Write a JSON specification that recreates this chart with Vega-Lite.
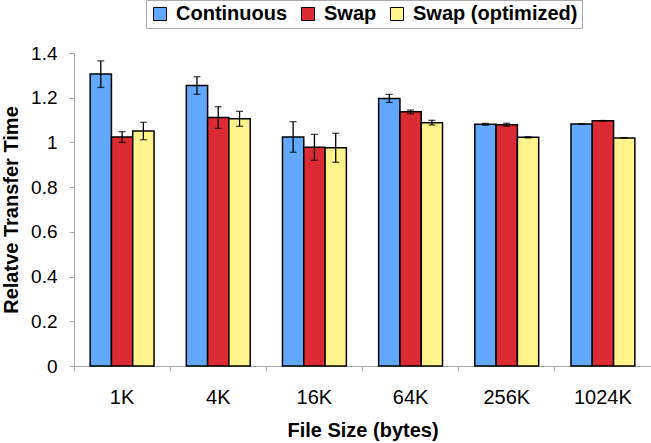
{
  "$schema": "https://vega.github.io/schema/vega-lite/v6.json",
  "width": 577,
  "height": 313,
  "autosize": {"type": "none"},
  "padding": {"left": 74, "top": 53, "right": 0, "bottom": 77},
  "background": "white",
  "config": {
    "font": "Liberation Sans",
    "view": {"stroke": null}
  },
  "data": {
    "values": [
      {"size": "1K", "series": "Continuous", "value": 1.306, "lo": 1.246, "hi": 1.365},
      {"size": "1K", "series": "Swap", "value": 1.024, "lo": 1.0, "hi": 1.048},
      {"size": "1K", "series": "Swap (optimized)", "value": 1.051, "lo": 1.012, "hi": 1.09},
      {"size": "4K", "series": "Continuous", "value": 1.255, "lo": 1.215, "hi": 1.294},
      {"size": "4K", "series": "Swap", "value": 1.112, "lo": 1.063, "hi": 1.16},
      {"size": "4K", "series": "Swap (optimized)", "value": 1.106, "lo": 1.072, "hi": 1.139},
      {"size": "16K", "series": "Continuous", "value": 1.024, "lo": 0.956, "hi": 1.093},
      {"size": "16K", "series": "Swap", "value": 0.978, "lo": 0.92, "hi": 1.036},
      {"size": "16K", "series": "Swap (optimized)", "value": 0.976, "lo": 0.911, "hi": 1.041},
      {"size": "64K", "series": "Continuous", "value": 1.197, "lo": 1.179, "hi": 1.215},
      {"size": "64K", "series": "Swap", "value": 1.137, "lo": 1.128, "hi": 1.145},
      {"size": "64K", "series": "Swap (optimized)", "value": 1.088, "lo": 1.078, "hi": 1.099},
      {"size": "256K", "series": "Continuous", "value": 1.081, "lo": 1.077, "hi": 1.085},
      {"size": "256K", "series": "Swap", "value": 1.079, "lo": 1.072, "hi": 1.086},
      {"size": "256K", "series": "Swap (optimized)", "value": 1.023, "lo": 1.02, "hi": 1.026},
      {"size": "1024K", "series": "Continuous", "value": 1.082, "lo": 1.081, "hi": 1.083},
      {"size": "1024K", "series": "Swap", "value": 1.097, "lo": 1.096, "hi": 1.098},
      {"size": "1024K", "series": "Swap (optimized)", "value": 1.02, "lo": 1.02, "hi": 1.021}
    ]
  },
  "encoding": {
    "x": {
      "field": "size",
      "type": "nominal",
      "sort": ["1K", "4K", "16K", "64K", "256K", "1024K"],
      "scale": {"paddingInner": 0, "paddingOuter": 0},
      "axis": {
        "title": "File Size (bytes)",
        "labelAngle": 0,
        "labelFontSize": 20,
        "labelColor": "black",
        "labelPadding": 16,
        "bandPosition": 0,
        "tickSize": 5,
        "tickColor": "#aaaaaa",
        "domainColor": "#aaaaaa",
        "titleFontSize": 20,
        "titleFontWeight": "bold",
        "titleColor": "black",
        "titlePadding": 13
      }
    },
    "xOffset": {
      "field": "series",
      "type": "nominal",
      "sort": ["Continuous", "Swap", "Swap (optimized)"],
      "scale": {"paddingInner": 0, "paddingOuter": 0.758}
    }
  },
  "layer": [
    {
      "mark": {"type": "bar", "stroke": "black", "strokeWidth": 1.5},
      "encoding": {
        "y": {
          "field": "value",
          "type": "quantitative",
          "scale": {"domain": [0, 1.4], "nice": false},
          "axis": {
            "title": "Relatve Transfer Time",
            "values": [0, 0.2, 0.4, 0.6, 0.8, 1, 1.2, 1.4],
            "format": "~g",
            "grid": false,
            "labelFontSize": 19,
            "labelColor": "black",
            "labelPadding": 12,
            "tickSize": 5,
            "tickColor": "#aaaaaa",
            "domainColor": "#aaaaaa",
            "titleFontSize": 20,
            "titleFontWeight": "bold",
            "titleColor": "black",
            "titlePadding": 9
          }
        },
        "color": {
          "field": "series",
          "type": "nominal",
          "scale": {
            "domain": ["Continuous", "Swap", "Swap (optimized)"],
            "range": ["#62a8ff", "#dc2b33", "#fff48c"]
          },
          "legend": {
            "title": null,
            "orient": "none",
            "legendX": 72,
            "legendY": -53,
            "direction": "horizontal",
            "symbolType": "square",
            "symbolSize": 170,
            "symbolStrokeColor": "black",
            "symbolStrokeWidth": 1,
            "symbolOpacity": 1,
            "labelFontSize": 20,
            "labelFontWeight": "bold",
            "labelColor": "black",
            "labelLimit": 400,
            "labelOffset": 6,
            "columnPadding": 10,
            "padding": 4,
            "strokeColor": "#aaaaaa"
          }
        }
      }
    },
    {
      "mark": {"type": "rule", "color": "black", "strokeWidth": 1.3},
      "encoding": {
        "y": {"field": "lo", "type": "quantitative"},
        "y2": {"field": "hi"}
      }
    },
    {
      "mark": {"type": "tick", "color": "black", "thickness": 1.3, "size": 7},
      "encoding": {
        "y": {"field": "lo", "type": "quantitative"}
      }
    },
    {
      "mark": {"type": "tick", "color": "black", "thickness": 1.3, "size": 7},
      "encoding": {
        "y": {"field": "hi", "type": "quantitative"}
      }
    }
  ]
}
